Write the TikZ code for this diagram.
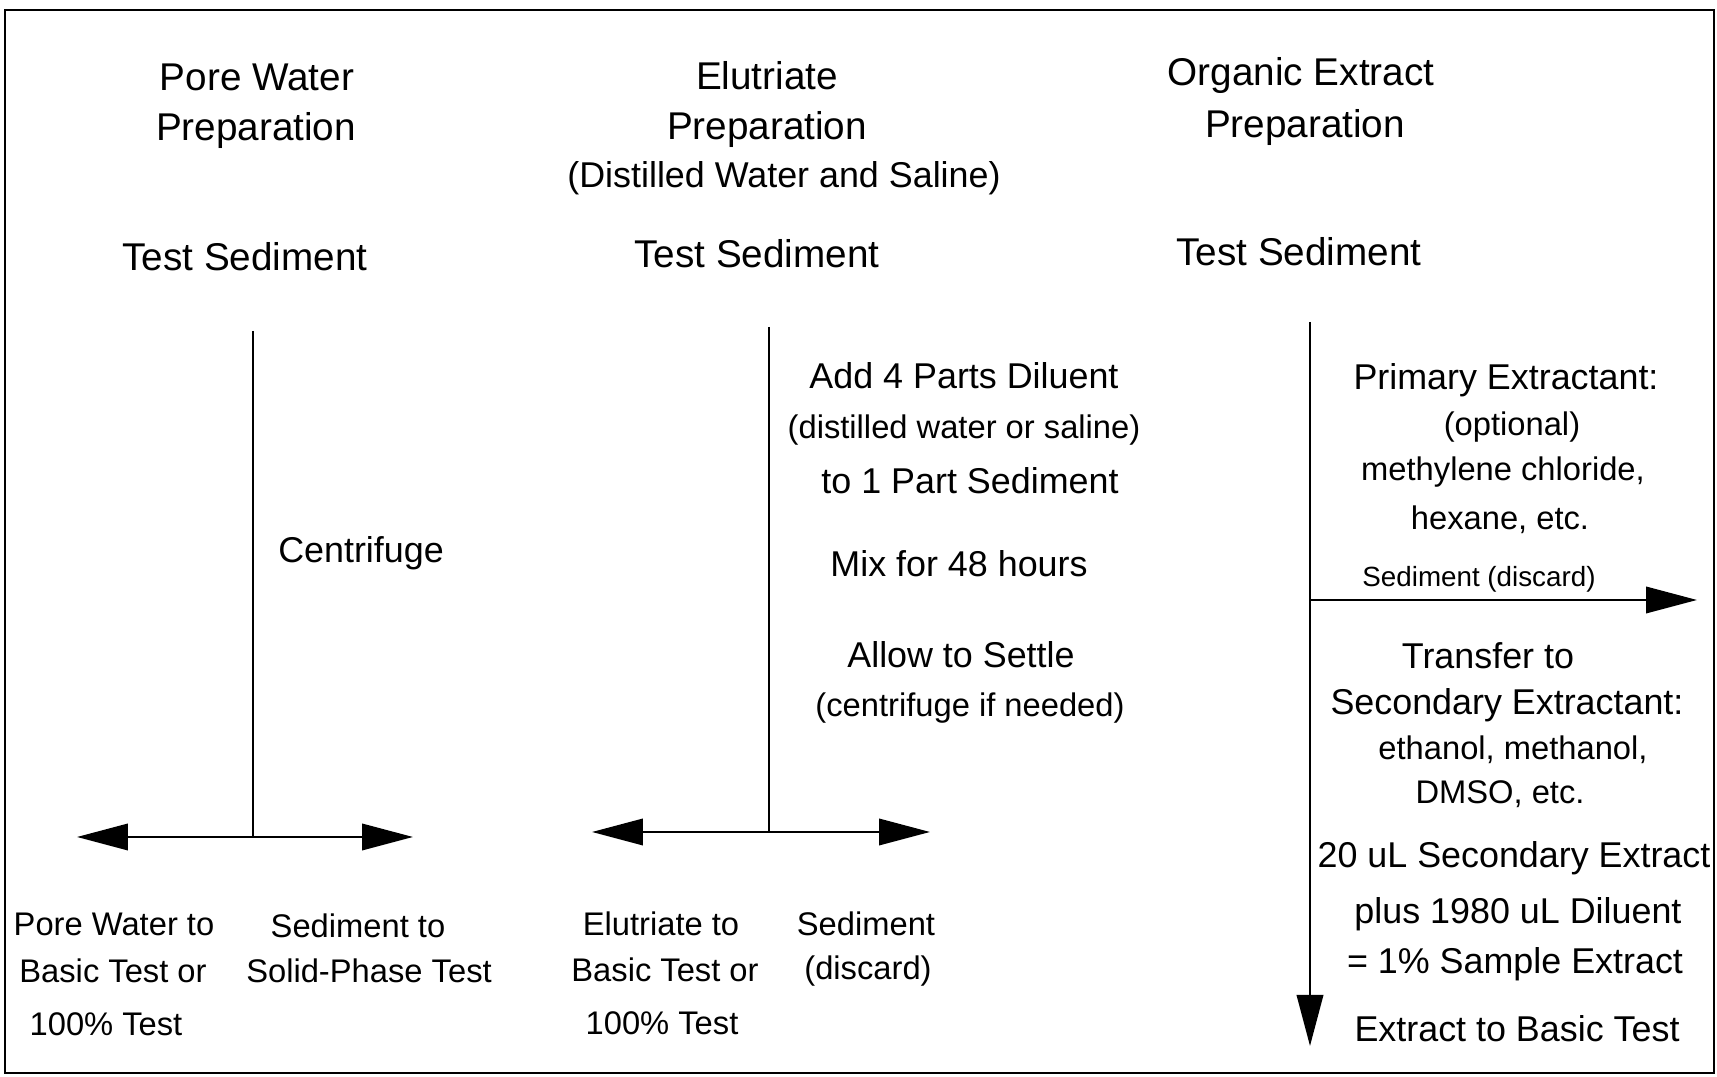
\documentclass[tikz,border=0pt]{standalone}
\usepackage{fontspec}
\setmainfont{Liberation Sans}
\usetikzlibrary{arrows.meta}
\begin{document}
\begin{tikzpicture}[x=0.01cm,y=-0.01cm,
  every node/.style={inner sep=0pt,anchor=center},
  ttl/.style={font=\fontsize{11}{13}\selectfont},
  txt/.style={font=\fontsize{10.2}{12}\selectfont},
  par/.style={font=\fontsize{9.3}{11}\selectfont},
  lab/.style={font=\fontsize{9.3}{11}\selectfont},
  sm/.style={font=\fontsize{7.9}{9}\selectfont},
  ln/.style={line width=0.7pt},
  arr/.style={line width=0.7pt,-{Triangle[length=14.5pt,width=7.5pt]}}]
\useasboundingbox (0,0) rectangle (1717,1077);
\draw[line width=0.8pt] (5,10) rectangle (1714,1073);
% titles
\node[ttl] (t1a) at (257,77) {Pore Water};
\node[ttl] (t1b) at (256,131) {Preparation};
\node[ttl] (t2a) at (767,76) {Elutriate};
\node[ttl] (t2b) at (767,130) {Preparation};
\node[txt] (t2c) at (784,178) {(Distilled Water and Saline)};
\node[ttl] (t3a) at (1301,76) {Organic Extract};
\node[ttl] (t3b) at (1305,128) {Preparation};
\node[ttl] (s1) at (245,257) {Test Sediment};
\node[ttl] (s2) at (757,254) {Test Sediment};
\node[ttl] (s3) at (1299,252) {Test Sediment};
% column 1
\coordinate (v1t) at (253,331);
\coordinate (v1b) at (253,837);
\coordinate (l1) at (77,837);
\coordinate (r1) at (413,837);
\draw[ln] (v1t) -- (v1b);
\draw[arr] (v1b) -- (l1);
\draw[arr] (v1b) -- (r1);
\node[txt] (c1) at (361,553) {Centrifuge};
\node[lab] (p1) at (114,924) {Pore Water to};
\node[lab] (p2) at (113,971) {Basic Test or};
\node[lab] (p3) at (106,1024) {100\% Test};
\node[lab] (q1) at (358,926) {Sediment to};
\node[lab] (q2) at (369,971) {Solid-Phase Test};
% column 2
\coordinate (v2t) at (769,327);
\coordinate (v2b) at (769,832);
\coordinate (l2) at (592,832);
\coordinate (r2) at (930,832);
\draw[ln] (v2t) -- (v2b);
\draw[arr] (v2b) -- (l2);
\draw[arr] (v2b) -- (r2);
\node[txt] (e1) at (964,376) {Add 4 Parts Diluent};
\node[par] (e2) at (964,430) {(distilled water or saline)};
\node[txt] (e3) at (970,481) {to 1 Part Sediment};
\node[txt] (e4) at (959,564) {Mix for 48 hours};
\node[txt] (e5) at (961,655) {Allow to Settle};
\node[par] (e6) at (970,708) {(centrifuge if needed)};
\node[lab] (f1) at (661,924) {Elutriate to};
\node[lab] (f2) at (665,970) {Basic Test or};
\node[lab] (f3) at (662,1023) {100\% Test};
\node[lab] (g1) at (866,924) {Sediment};
\node[lab] (g2) at (868,971) {(discard)};
% column 3
\coordinate (v3t) at (1310,322);
\coordinate (v3m) at (1310,600);
\coordinate (v3b) at (1310,1046);
\coordinate (r3) at (1697,600);
\draw[arr] (v3t) -- (v3b);
\draw[arr] (v3m) -- (r3);
\node[txt] (o1) at (1506,380) {Primary Extractant:};
\node[par] (o2) at (1512,427) {(optional)};
\node[par] (o3) at (1503,472) {methylene chloride,};
\node[par] (o4) at (1500,520) {hexane, etc.};
\node[sm] (o5) at (1479,579) {Sediment (discard)};
\node[txt] (o6) at (1488,656) {Transfer to};
\node[txt] (o7) at (1507,705) {Secondary Extractant:};
\node[par] (o8) at (1513,750) {ethanol, methanol,};
\node[par] (o9) at (1500,794) {DMSO, etc.};
\node[txt] (o10) at (1514,858) {20 uL Secondary Extract};
\node[txt] (o11) at (1518,914) {plus 1980 uL Diluent};
\node[txt] (o12) at (1515,964) {= 1\% Sample Extract};
\node[txt] (o13) at (1517,1029) {Extract to Basic Test};
\end{tikzpicture}
\end{document}
